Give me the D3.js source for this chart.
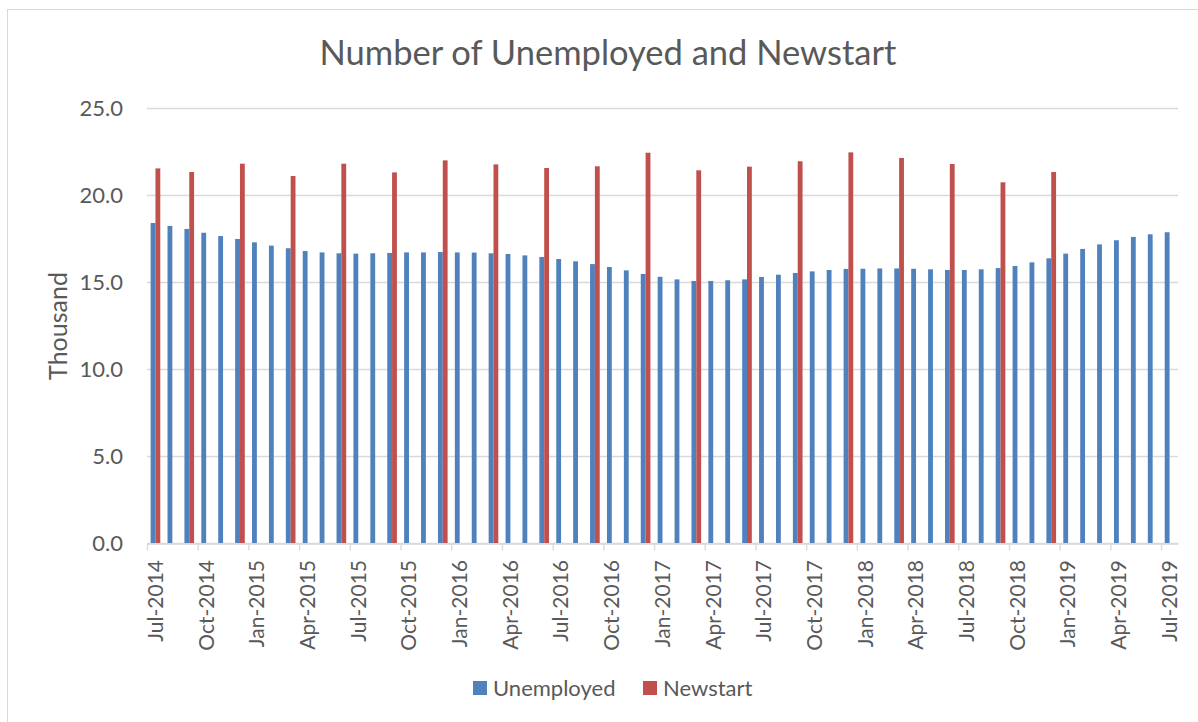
<!DOCTYPE html>
<html>
<head>
<meta charset="utf-8">
<script src="https://cdn.jsdelivr.net/npm/d3@7"></script>
<style>
  body { margin: 0; background: #fff; }
  text { font-family: Lato, "Open Sans", sans-serif; fill: #595959; }
</style>
</head>
<body>
<svg id="chart" width="1198" height="722"></svg>
<script>
// Monthly categories, Jul 2014 .. Jul 2019
var fmt = d3.timeFormat('%b-%Y');
var months = d3.timeMonth.range(new Date(2014, 6, 1), new Date(2019, 7, 1)).map(fmt);

// Unemployed (thousand), one value per month
var unemployed = [
    18.39, 18.22, 18.05, 17.83, 17.64, 17.47, 17.28, 17.09, 16.94, 16.78,
    16.70, 16.65, 16.63, 16.65, 16.67, 16.70, 16.70, 16.72, 16.70, 16.69,
    16.65, 16.61, 16.53, 16.44, 16.32, 16.19, 16.03, 15.86, 15.67, 15.46,
    15.30, 15.15, 15.06, 15.06, 15.10, 15.15, 15.29, 15.42, 15.52, 15.61,
    15.69, 15.75, 15.76, 15.78, 15.78, 15.76, 15.73, 15.69, 15.69, 15.73,
    15.80, 15.92, 16.13, 16.36, 16.63, 16.90, 17.16, 17.40, 17.59, 17.74,
    17.86
];

// Newstart (thousand), quarterly
var newstartMonths = [
    'Jul-2014', 'Sep-2014', 'Dec-2014', 'Mar-2015', 'Jun-2015', 'Sep-2015',
    'Dec-2015', 'Mar-2016', 'Jun-2016', 'Sep-2016', 'Dec-2016', 'Mar-2017',
    'Jun-2017', 'Sep-2017', 'Dec-2017', 'Mar-2018', 'Jun-2018', 'Sep-2018',
    'Dec-2018'
];
var newstart = [
    21.53, 21.32, 21.80, 21.09, 21.80, 21.30,
    21.99, 21.76, 21.55, 21.65, 22.43, 21.42,
    21.63, 21.94, 22.45, 22.13, 21.78, 20.73,
    21.32
];

var yTicks = [0, 5, 10, 15, 20, 25];
var seriesNames = ['Unemployed', 'Newstart'];
var seriesColors = ['#4F81BD', '#C0504D'];

var svg = d3.select('#chart');

// Chart area border
svg.append('rect')
    .attr('x', 7.5).attr('y', 9.5)
    .attr('width', 1300).attr('height', 800)
    .style('fill', 'none')
    .style('stroke', '#d9d9d9');

var x = d3.scaleBand().domain(months).range([147, 1178]).padding(0);
var xs = d3.scaleBand().domain(seriesNames).range([0, x.bandwidth()])
    .paddingInner(0).paddingOuter(0.75);
var xi = d3.scaleLinear().domain([0, months.length]).range([147, 1178]);
var y = d3.scaleLinear().domain([0, 25]).range([543, 108]);
var color = d3.scaleOrdinal().domain(seriesNames).range(seriesColors);

// Title
svg.append('text')
    .attr('x', 608).attr('y', 65)
    .attr('text-anchor', 'middle')
    .style('font-size', '34.5px')
    .text('Number of Unemployed and Newstart');

// Gridlines
svg.append('g')
    .selectAll('line')
    .data(yTicks)
    .enter().append('line')
    .attr('x1', 147).attr('x2', 1178)
    .attr('y1', function(d) { return Math.round(y(d)) + 0.5; })
    .attr('y2', function(d) { return Math.round(y(d)) + 0.5; })
    .style('stroke', '#d9d9d9')
    .style('stroke-width', 1.3);

// Y axis labels
var yAxis = d3.axisLeft(y).tickValues(yTicks).tickSize(0).tickPadding(0)
    .tickFormat(d3.format('.1f'));
var gy = svg.append('g')
    .attr('transform', 'translate(123, 0)')
    .call(yAxis);
gy.select('path').remove();
gy.selectAll('.tick text')
    .attr('fill', '#595959')
    .style('font-family', 'Lato, sans-serif')
    .style('font-size', '22px');

svg.append('text')
    .attr('transform', 'translate(67, 326) rotate(-90)')
    .attr('text-anchor', 'middle')
    .style('font-size', '25px')
    .text('Thousand');

// Bars
svg.append('g')
    .selectAll('rect')
    .data(unemployed)
    .enter().append('rect')
    .attr('x', function(d, i) { return x(months[i]) + xs('Unemployed'); })
    .attr('y', function(d) { return y(d); })
    .attr('width', xs.bandwidth())
    .attr('height', function(d) { return y(0) - y(d); })
    .style('fill', color('Unemployed'));

svg.append('g')
    .selectAll('rect')
    .data(newstart)
    .enter().append('rect')
    .attr('x', function(d, i) { return x(newstartMonths[i]) + xs('Newstart'); })
    .attr('y', function(d) { return y(d); })
    .attr('width', xs.bandwidth())
    .attr('height', function(d) { return y(0) - y(d); })
    .style('fill', color('Newstart'));

// X axis: line and ticks on category boundaries every 3 months
var tickIdx = d3.range(0, months.length, 3);
var gxTicks = svg.append('g')
    .attr('transform', 'translate(0, ' + (Math.round(y(0)) + 0.5) + ')')
    .call(d3.axisBottom(xi).tickValues(tickIdx).tickSizeInner(7).tickSizeOuter(0).tickFormat(''));
gxTicks.select('path').style('stroke', '#d9d9d9').style('stroke-width', 1.3);
gxTicks.selectAll('.tick line').style('stroke', '#d9d9d9').style('stroke-width', 1.3);

// X axis labels at category centres
var gx = svg.append('g')
    .attr('transform', 'translate(0, 560)')
    .call(d3.axisBottom(x).tickValues(tickIdx.map(function(i) { return months[i]; }))
        .tickSize(0).tickPadding(0));
gx.select('path').remove();
gx.selectAll('.tick text')
    .attr('fill', '#595959')
    .style('font-family', 'Lato, sans-serif')
    .style('font-size', '21px')
    .attr('text-anchor', 'end')
    .attr('dy', '0.35em')
    .attr('transform', 'rotate(-90)')
    .attr('x', 0)
    .attr('y', 0);

// Legend
var legend = svg.append('g').attr('transform', 'translate(473, 688)');
var legendX = [0, 170];
seriesNames.forEach(function(name, i) {
    var g = legend.append('g').attr('transform', 'translate(' + legendX[i] + ', 0)');
    g.append('rect')
        .attr('x', 0).attr('y', -7)
        .attr('width', 14).attr('height', 14)
        .style('fill', color(name));
    g.append('text')
        .attr('x', 20).attr('y', 8)
        .style('font-size', '22px')
        .text(name);
});
</script>
</body>
</html>
